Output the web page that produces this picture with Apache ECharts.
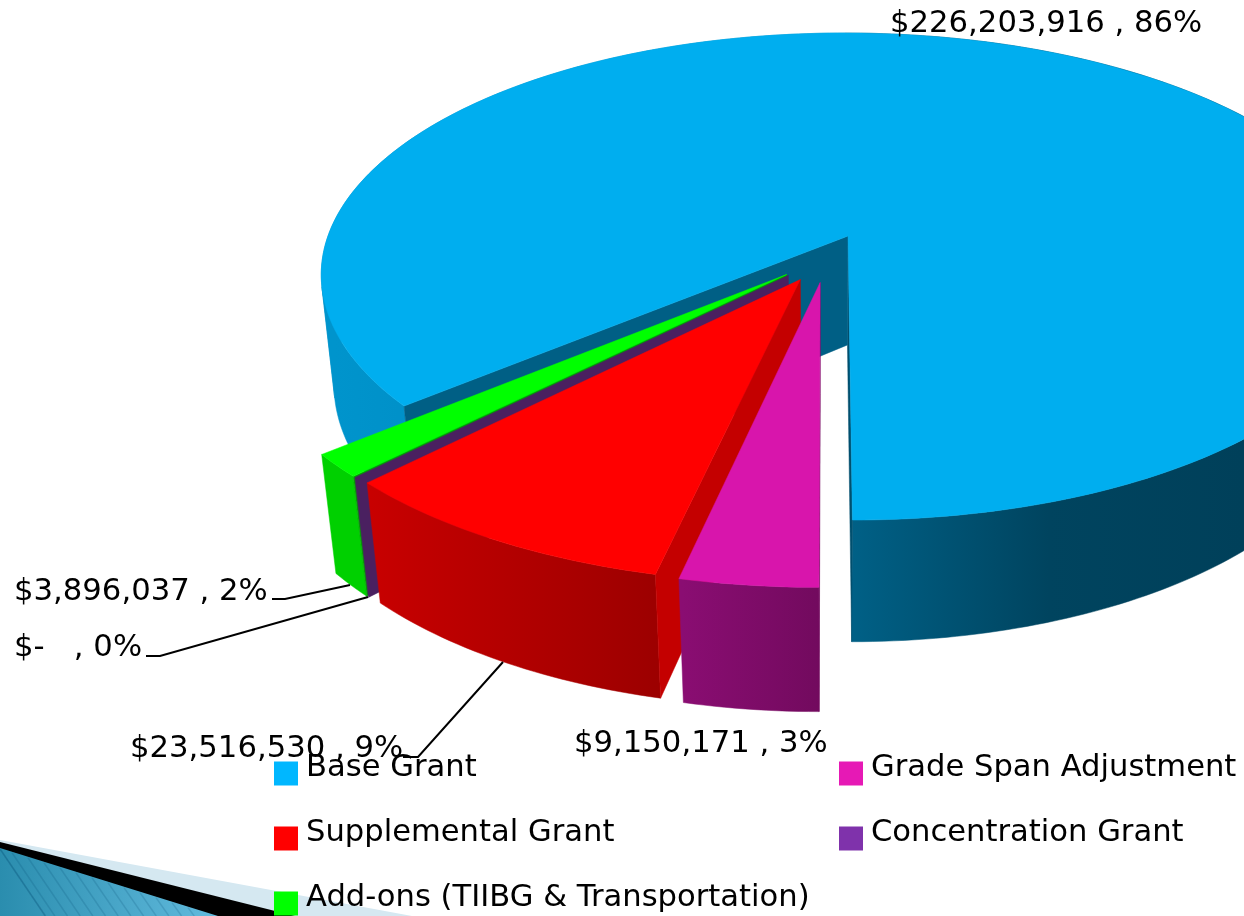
<!DOCTYPE html>
<html><head><meta charset="utf-8">
<style>html,body{margin:0;padding:0;background:#fff}#c{width:1244px;height:916px}</style>
<script src="https://cdn.jsdelivr.net/npm/echarts@6/dist/echarts.min.js"></script>
</head><body><div id="c"></div>
<script>
var categories = ['Base Grant','Grade Span Adjustment','Supplemental Grant','Concentration Grant','Add-ons (TIIBG & Transportation)'];
var amounts = [226203916, 9150171, 23516530, 0, 3896037];
var percents = [86, 3, 9, 0, 2];
var legendColors = ['#00B7FF','#E619B5','#FF0000','#7F32AB','#00FF00'];
var FONT = '"DejaVu Sans"';

// Slices run clockwise on screen from the front of the pie, in this order.
var sweepOrder = [1, 2, 3, 4, 0];
var total = amounts.reduce(function (a, b) { return a + b; }, 0);
var spans = {};
(function () {
  var a = 0;
  sweepOrder.forEach(function (i) {
    var s = amounts[i] / total * 360;
    spans[i] = [a, a + s];
    a += s;
  });
})();

// Perspective camera on the pie plane
var CX = 826, CY = 257.8, RX = 528, RY = 244.1, KV = 0.1689, KZ = 0.0256, HZ = 112.8, EXPLODE = 0.1;
function project(u, v, z) {
  var w = 1 - KV * v + KZ * z;
  return [CX + RX * u / w, CY + (RY * v + HZ * z) / w];
}
function rad(d) { return d * Math.PI / 180; }
function apex(i) {
  var b = rad((spans[i][0] + spans[i][1]) / 2);
  return [-EXPLODE * Math.sin(b), EXPLODE * Math.cos(b)];
}
function pt(i, r, th, z) {
  var o = apex(i), t = rad(th);
  return project(o[0] - r * Math.sin(t), o[1] + r * Math.cos(t), z);
}
function arc(i, a, b, z) {
  var out = [], n = Math.max(2, Math.ceil(Math.abs(b - a)));
  for (var k = 0; k <= n; k++) out.push(pt(i, 1, a + (b - a) * k / n, z));
  return out;
}
function poly(points, fill) {
  return { type: 'polygon', shape: { points: points }, style: { fill: fill, stroke: fill, lineWidth: 0.5 } };
}
function grad(x0, x1, stops) {
  return new echarts.graphic.LinearGradient(x0, 0, x1, 0, stops.map(function (c, k) {
    return { offset: k / (stops.length - 1), color: c };
  }), true);
}
// The rim wall is cut where it turns away at the silhouette, so each piece is a simple polygon.
function facing(i, p, q) {
  var a = pt(i, 1, p, 0), b = pt(i, 1, q, 0), c = pt(i, 1, q, 1);
  return (b[0] - a[0]) * (c[1] - b[1]) - (b[1] - a[1]) * (c[0] - b[0]) > 0;
}
function wall(i, a, b, fill) {
  var out = [], n = Math.max(1, Math.ceil(Math.abs(b - a))), start = a, last = null;
  for (var k = 0; k < n; k++) {
    var p = a + (b - a) * k / n, q = a + (b - a) * (k + 1) / n, f = facing(i, p, q);
    if (last !== null && f !== last) {
      out.push(poly(arc(i, start, p, 0).concat(arc(i, start, p, 1).reverse()), fill));
      start = p;
    }
    last = f;
  }
  out.push(poly(arc(i, start, b, 0).concat(arc(i, start, b, 1).reverse()), fill));
  return out;
}
function radial(i, th, fill) {
  return poly([pt(i, 0, th, 0), pt(i, 1, th, 0), pt(i, 1, th, 1), pt(i, 0, th, 1)], fill);
}
function topFace(i, color) {
  return poly([pt(i, 0, 0, 0)].concat(arc(i, spans[i][0], spans[i][1], 0)), color);
}

var painters = {
  0: function () {
    var s = spans[0];
    return [].concat(
      wall(0, s[0], 180, grad(335, 420, ['#0094CC', '#0090C8'])),
      wall(0, 180, s[1], grad(853, 1244, ['#006086', '#00445F', '#00405A'])),
      [radial(0, s[1], '#004F6E'), radial(0, s[0], '#005F85'), topFace(0, '#00AEEF')]
    );
  },
  1: function () {
    var s = spans[1];
    return [].concat(
      wall(1, s[0], s[1], grad(682, 821, ['#8A0D72', '#720A5E'])),
      [radial(1, s[0], '#720A5E'), topFace(1, '#D815AC')]
    );
  },
  2: function () {
    var s = spans[2];
    return [].concat(
      wall(2, s[0], s[1], grad(370, 660, ['#C80000', '#9C0000'])),
      [radial(2, s[0], '#C40000'), topFace(2, '#FF0000')]
    );
  },
  3: function () {
    return [radial(3, spans[3][0], '#4A2060')];
  },
  4: function () {
    var s = spans[4];
    return [].concat(
      wall(4, s[0], s[1], '#00D000'),
      [radial(4, s[0], '#00A000'), topFace(4, '#00FF00')]
    );
  }
};

// Back-to-front painting order
var paintOrder = [0, 4, 3, 2, 1];
var seriesList = paintOrder.map(function (i) {
  return {
    type: 'custom',
    name: categories[i],
    coordinateSystem: 'none',
    itemStyle: { color: legendColors[i] },
    silent: true,
    animation: false,
    data: [[amounts[i]]],
    renderItem: function () {
      return { type: 'group', children: painters[i]() };
    }
  };
});

function money(v) { return v === 0 ? '$-   ' : '$' + v.toLocaleString('en-US') + ' '; }
function labelText(i) { return money(amounts[i]) + ', ' + percents[i] + '%'; }
function sliceLabel(i, x, y) {
  return { type: 'text', x: x, y: y, z: 20, silent: true,
    style: { text: labelText(i), fill: '#000', font: '30.7px ' + FONT, verticalAlign: 'middle' } };
}
function leader(pts) {
  return { type: 'polyline', z: 19, silent: true, shape: { points: pts }, style: { stroke: '#000', lineWidth: 2, fill: null } };
}

var decor = [
  { type: 'polygon', z: 1, silent: true, shape: { points: [[0, 840], [412, 916], [0, 916]] }, style: { fill: '#D5E8F1' } },
  { type: 'polygon', z: 2, silent: true, shape: { points: [[0, 842], [295, 916], [0, 916]] }, style: { fill: '#000' } },
  { type: 'polygon', z: 3, silent: true, shape: { points: [[0, 848], [218, 916], [0, 916]] },
    style: { fill: new echarts.graphic.LinearGradient(0, 0, 218, 0, [{ offset: 0, color: '#2A8DAE' }, { offset: 1, color: '#62BBDE' }], true) } }
];
for (var sx = -20; sx < 190; sx += 16) {
  var x0 = Math.max(sx, 0);
  var sy = 848 + x0 * 0.312;
  decor.push({ type: 'line', z: 4, silent: true,
    shape: { x1: x0, y1: sy + 1, x2: x0 + (916 - sy) / 1.5, y2: 916 },
    style: { stroke: 'rgba(0,70,110,0.18)', lineWidth: 1.5 } });
}

var chart = echarts.init(document.getElementById('c'), null, { renderer: 'canvas' });
function legendItem(i, left, top) {
  return {
    data: [categories[i]], orient: 'horizontal', left: left, top: top, padding: 0,
    itemWidth: 24, itemHeight: 24, selectedMode: false, icon: 'rect',
    formatter: '{t|{name}}',
    textStyle: { fontFamily: FONT, fontSize: 30.6, color: '#000',
      rich: { t: { fontFamily: FONT, fontSize: 30.6, color: '#000', padding: [0, 0, 10, 3] } } }
  };
}
chart.setOption({
  animation: false,
  backgroundColor: '#fff',
  legend: [
    legendItem(0, 274, 753),
    legendItem(2, 274, 818),
    legendItem(4, 274, 883),
    legendItem(1, 839, 753),
    legendItem(3, 839, 818)
  ],
  series: seriesList,
  graphic: { elements: decor.concat([
    leader([[272, 599], [285, 599], [350, 585]]),
    leader([[146, 656], [160, 656], [368, 597]]),
    leader([[403, 757], [418, 757], [503, 662]]),
    sliceLabel(0, 890, 24),
    sliceLabel(4, 14, 592),
    sliceLabel(3, 14, 648),
    sliceLabel(2, 130, 749),
    sliceLabel(1, 574, 744)
  ]) }
});
</script></body></html>
